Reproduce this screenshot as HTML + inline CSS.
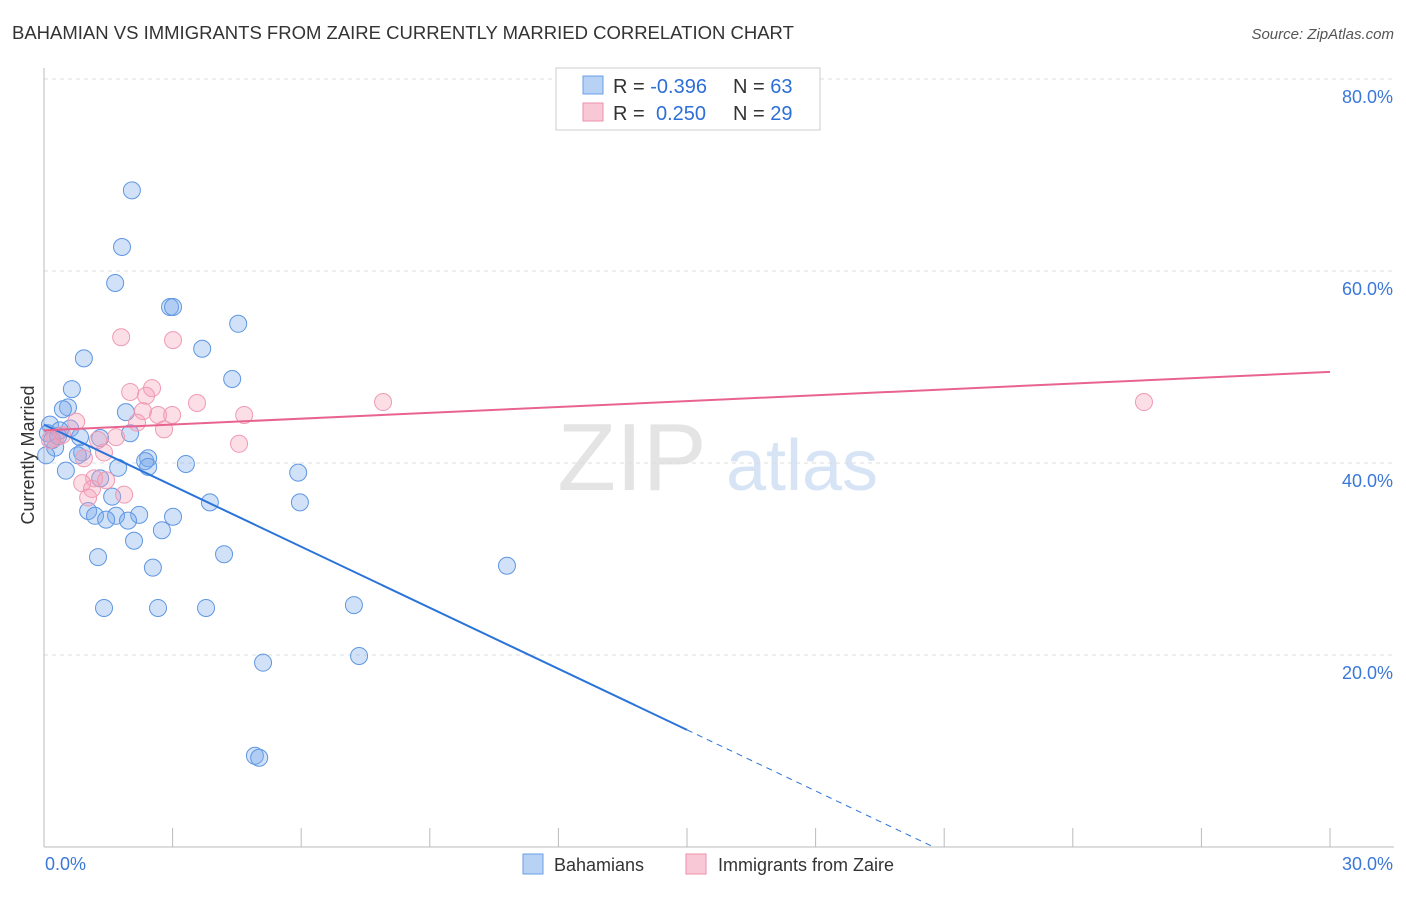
<!DOCTYPE html>
<html><head><meta charset="utf-8"><style>
body{margin:0;background:#fff;font-family:"Liberation Sans",sans-serif}
svg text{font-family:"Liberation Sans",sans-serif}
</style></head><body>
<svg id="c" width="1406" height="892">
<text x="12" y="39" font-size="18.5" fill="#333">BAHAMIAN VS IMMIGRANTS FROM ZAIRE CURRENTLY MARRIED CORRELATION CHART</text>
<text x="1394" y="39" font-size="15" fill="#555" text-anchor="end" font-style="italic">Source: ZipAtlas.com</text>
<text x="632" y="490" font-size="96" fill="#e4e4e4" font-family="Liberation Serif" text-anchor="middle">ZIP</text>
<text x="802" y="490" font-size="72" fill="#d6e4f5" text-anchor="middle">atlas</text>
<text transform="translate(34,455) rotate(-90)" font-size="18" fill="#333" text-anchor="middle">Currently Married</text>
<g id="grid"></g><g id="pts"></g><g id="trend"></g>
<g>
<rect x="556" y="68" width="264" height="62" fill="#fff" stroke="#ccc"/>
<rect x="583" y="76" width="20" height="18" fill="#b8d2f5" stroke="#6a9fe6"/>
<rect x="583" y="103" width="20" height="18" fill="#f9c8d6" stroke="#ee90ab"/>
<text x="613" y="93" font-size="20" fill="#333">R = <tspan fill="#2d6fd6">-0.396</tspan><tspan x="733">N = </tspan><tspan fill="#2d6fd6">63</tspan></text>
<text x="613" y="120" font-size="20" fill="#333">R = <tspan fill="#2d6fd6" x="656">0.250</tspan><tspan x="733">N = </tspan><tspan fill="#2d6fd6">29</tspan></text>
</g>
<g>
<rect x="523" y="854" width="20" height="20" fill="#b8d2f5" stroke="#6a9fe6"/>
<text x="554" y="871" font-size="18" fill="#333">Bahamians</text>
<rect x="686" y="854" width="20" height="20" fill="#f9c8d6" stroke="#ee90ab"/>
<text x="718" y="871" font-size="18" fill="#333">Immigrants from Zaire</text>
</g>
</svg>
<script>
const yTicks=[20,40,60,80];
const yTickLabels=["20.0%","40.0%","60.0%","80.0%"];
const xTicks=[0,3,6,9,12,15,18,21,24,27,30];
const blueX=[2.05,1.82,1.66,2.94,3.01,4.53,3.69,0.93,4.39,0.65,0.56,0.44,1.91,0.14,0.61,2.01,0.84,1.31,0.26,0.89,0.79,2.43,2.36,3.31,2.43,1.73,0.51,5.93,1.31,1.59,3.87,5.97,1.03,1.19,1.68,2.22,3.01,1.45,1.96,2.75,2.10,4.20,1.26,2.54,10.80,1.40,2.66,3.78,7.23,5.11,7.35,4.92,5.02,0.09,0.05,0.19,0.37,0.33];
const blueY=[68.4,62.5,58.75,56.25,56.25,54.5,51.9,50.9,48.75,47.7,45.8,45.6,45.3,44.0,43.6,43.1,42.7,42.6,41.6,41.1,40.8,40.5,40.2,39.9,39.6,39.5,39.2,39.0,38.4,36.5,35.9,35.9,35.0,34.5,34.5,34.6,34.4,34.1,34.0,33.0,31.9,30.5,30.2,29.1,29.3,24.9,24.9,24.9,25.2,19.2,19.9,9.5,9.3,43.1,40.8,42.4,43.4,42.8];
const pinkX=[1.80,3.01,2.52,2.01,3.57,2.38,7.91,25.66,2.31,2.66,2.99,4.67,0.75,2.17,2.80,1.68,1.26,4.55,0.42,0.26,1.40,0.93,1.17,1.45,0.89,1.12,1.87,1.03,0.14];
const pinkY=[53.1,52.8,47.8,47.4,46.25,47.0,46.35,46.35,45.4,45.0,45.0,45.0,44.3,44.2,43.5,42.7,42.4,42.0,42.9,42.6,41.1,40.5,38.4,38.2,37.9,37.3,36.7,36.4,42.4];
const blueTrend=[44.0,-2.12];
const pinkTrend=[43.4,0.203];
const NS="http://www.w3.org/2000/svg";
const sx=v=>44+v*1286/30, sy=v=>847-v*9.6;
function mk(t,a,p){const e=document.createElementNS(NS,t);for(const k in a)e.setAttribute(k,a[k]);p.appendChild(e);return e;}
const g=document.getElementById('grid');
yTicks.forEach((t,i)=>{
 const l=mk('line',{x1:44,x2:1394,y1:sy(t),y2:sy(t),stroke:'#ddd','stroke-dasharray':'4,4'},g);
 
 
 const tx=mk('text',{x:1393,y:sy(t)+24,'font-size':18,fill:'#3a78d8','text-anchor':'end'},g);
 tx.textContent=yTickLabels[i];
 
 
});
const topLine=mk('line',{x1:44,x2:1394,y1:79,y2:79,stroke:'#ddd','stroke-dasharray':'4,4'},g);


const ya=mk('line',{x1:44,x2:44,y1:68,y2:847,stroke:'#bbb'},g);


const xa=mk('line',{x1:44,x2:1394,y1:847,y2:847,stroke:'#bbb'},g);


xTicks.forEach(t=>{
 const l=mk('line',{x1:sx(t),x2:sx(t),y1:828,y2:847,stroke:'#bbb'},g);
 
 
});
const xl0=mk('text',{x:45,y:870,'font-size':18,fill:'#3a78d8'},g);xl0.textContent='0.0%';


const xl1=mk('text',{x:1393,y:870,'font-size':18,fill:'#3a78d8','text-anchor':'end'},g);xl1.textContent='30.0%';


const p=document.getElementById('pts');
blueX.forEach((x,i)=>{
 const c=mk('circle',{cx:sx(x),cy:sy(blueY[i]),r:8.5,fill:'rgba(120,170,235,0.35)',stroke:'#5f97e2','stroke-width':1},p);
 
 
});
pinkX.forEach((x,i)=>{
 const c=mk('circle',{cx:sx(x),cy:sy(pinkY[i]),r:8.5,fill:'rgba(245,160,185,0.35)',stroke:'#ef9ab3','stroke-width':1},p);
 
 
});
const tr=document.getElementById('trend');
const bEnd=15, bZero=-blueTrend[0]/blueTrend[1];
const b1=mk('line',{x1:sx(0),y1:sy(blueTrend[0]),x2:sx(bEnd),y2:sy(blueTrend[0]+blueTrend[1]*bEnd),stroke:'#2a73d9','stroke-width':2},tr);


const b2=mk('line',{x1:sx(bEnd),y1:sy(blueTrend[0]+blueTrend[1]*bEnd),x2:sx(bZero),y2:sy(0),stroke:'#2a73d9','stroke-width':1,'stroke-dasharray':'6,5'},tr);


const pl=mk('line',{x1:sx(0),y1:sy(pinkTrend[0]),x2:sx(30),y2:sy(pinkTrend[0]+pinkTrend[1]*30),stroke:'#e8648f','stroke-width':2},tr);


</script>
</body></html>
